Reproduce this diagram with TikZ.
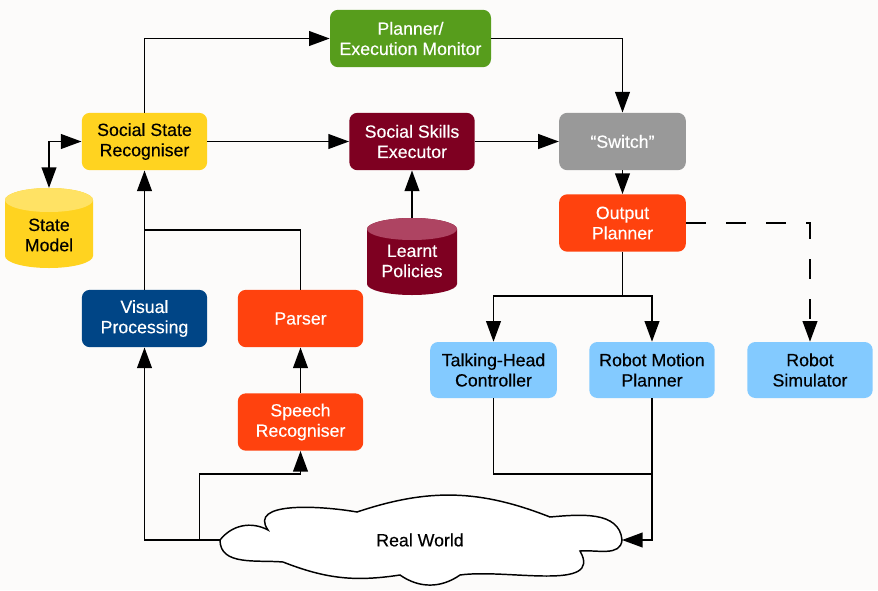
\documentclass[tikz,border=0pt]{standalone}
\usepackage{fontspec}
\setmainfont{Liberation Sans}[FakeBold=0.3]
\usetikzlibrary{arrows.meta}
\definecolor{bgc}{RGB}{252,251,250}
\definecolor{cgreen}{RGB}{87,157,28}
\definecolor{cyellow}{RGB}{255,211,32}
\definecolor{cyellowtop}{RGB}{255,226,100}
\definecolor{cdred}{RGB}{126,0,33}
\definecolor{cdredtop}{RGB}{174,68,98}
\definecolor{cgray}{RGB}{153,153,153}
\definecolor{corange}{RGB}{255,66,14}
\definecolor{cblue}{RGB}{0,69,134}
\definecolor{clblue}{RGB}{131,202,255}
\begin{document}
\begin{tikzpicture}[x=0.75pt,y=0.75pt,
  box/.style={rounded corners=6pt, minimum width=94pt, minimum height=43pt,
    align=center, inner sep=0pt, font=\fontsize{13.3}{15.2}\selectfont},
  lbl/.style={align=center, inner sep=0pt, font=\fontsize{13.3}{15.2}\selectfont},
  ln/.style={line width=1.45pt, line join=miter},
  arr/.style={ln, -{Triangle[length=15.5pt,width=11pt]}},
  arrb/.style={ln, {Triangle[length=15.5pt,width=11pt]}-{Triangle[length=15.5pt,width=11pt]}},
  dashline/.style={arr, dash pattern=on 15pt off 15pt}]
\fill[bgc] (0,0) rectangle (878,-590);
\useasboundingbox (0,0) rectangle (878,-590);

% boxes
\node[box, fill=cgreen, text=white, minimum width=120.75pt] (plan) at (410.5,-38.5) {Planner/\\Execution Monitor};
\node[box, fill=cyellow, text=black] (ssr) at (144.5,-141.5) {Social State\\Recogniser};
\node[box, fill=cdred, text=white] (sse) at (412,-141.5) {Social Skills\\Executor};
\node[box, fill=cgray, text=white, minimum width=95pt] (sw) at (622.5,-141.5) {``Switch''};
\node[box, fill=corange, text=white, minimum width=95pt] (op) at (622.5,-223) {Output\\Planner};
\node[box, fill=cblue, text=white] (vp) at (144.5,-318.5) {Visual\\Processing};
\node[box, fill=corange, text=white] (pa) at (300.5,-318.5) {Parser};
\node[box, fill=corange, text=white] (sr) at (300.5,-422) {Speech\\Recogniser};
\node[box, fill=clblue, text=black, minimum width=95pt, minimum height=42pt] (th) at (493.5,-370) {Talking-Head\\Controller};
\node[box, fill=clblue, text=black, minimum height=42pt] (rmp) at (652,-370) {Robot Motion\\Planner};
\node[box, fill=clblue, text=black, minimum height=42pt] (rs) at (810,-370) {Robot\\Simulator};

% State Model cylinder
\fill[cyellow] (5,-200) -- (5,-256) arc[start angle=180,end angle=360,x radius=33pt,y radius=9pt]
  -- (93,-200) arc[start angle=0,end angle=180,x radius=33pt,y radius=9pt] -- cycle;
\fill[cyellowtop] (49,-200) ellipse[x radius=33pt, y radius=9pt];
\node[lbl, text=black] (sm) at (49,-235) {State\\Model};
\coordinate (smtop) at (49,-188);

% Learnt Policies cylinder
\fill[cdred] (367,-229) -- (367,-284) arc[start angle=180,end angle=360,x radius=33.75pt,y radius=8.25pt]
  -- (457,-229) arc[start angle=0,end angle=180,x radius=33.75pt,y radius=8.25pt] -- cycle;
\fill[cdredtop] (412,-229) ellipse[x radius=33.75pt, y radius=8.25pt];
\node[lbl, text=white] (lp) at (412,-261) {Learnt\\Policies};
\coordinate (lptop) at (412,-218);

% Real World cloud
\coordinate (rwL) at (220,-540);
\coordinate (rwR) at (622,-540);
\draw[line width=1.1pt, fill=white] (rwL)
  to[bend left=40] (268,-530)
  to[out=125,in=170] (357,-512)
  to[bend left=20] (550,-517)
  to[out=5,in=95] (rwR)
  to[out=-95,in=5] (580,-551)
  to[out=-60,in=8] (460,-575)
  to[bend left=35] (400,-575)
  to[bend left=15] (283,-562)
  to[out=175,in=-90] (rwL) -- cycle;
\node[lbl, text=black] (rw) at (420,-540) {Real World};

% junction coordinates
\coordinate (j1) at (144.5,-230);
\coordinate (j2) at (199.5,-540);
\coordinate (j3) at (300.5,-474);
\coordinate (j4) at (622.5,-296);
\coordinate (j5) at (652,-474);

% connectors
\draw[arr] (ssr.north) |- (plan.west);
\draw[arr] (plan.east) -| (sw.north);
\draw[arr] (ssr.east) -- (sse.west);
\draw[arr] (sse.east) -- (sw.west);
\draw[arr] (sw.south) -- (op.north);
\draw[arrb] (smtop) |- (ssr.west);
\draw[arr] (lptop) -- (sse.south);
\draw[arr] (vp.north) -- (ssr.south);
\draw[ln] (pa.north) |- (j1);
\draw[arr] (sr.north) -- (pa.south);
\draw[arr] (rwL) -| (vp.south);
\draw[arr] (j2) |- (j3) -- (sr.south);
\draw[ln] (op.south) -- (j4);
\draw[arr] (j4) -| (th.north);
\draw[arr] (j4) -| (rmp.north);
\draw[dashline] (op.east) -| (rs.north);
\draw[ln] (th.south) |- (j5);
\draw[arr] (rmp.south) |- (rwR);
\end{tikzpicture}
\end{document}
